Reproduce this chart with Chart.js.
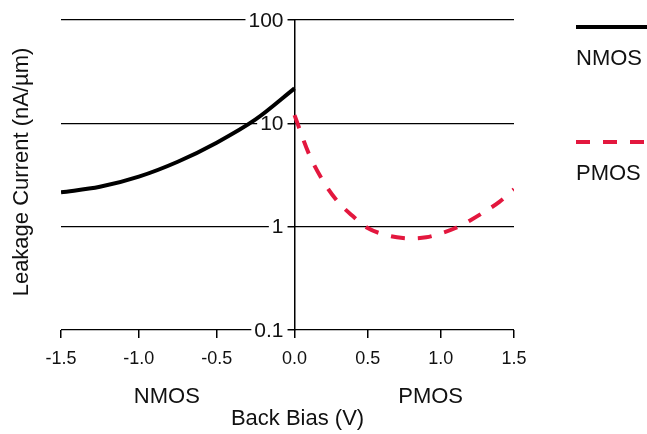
<!DOCTYPE html>
<html>
<head>
<meta charset="utf-8">
<script src="https://cdn.jsdelivr.net/npm/chart.js@4.4.1/dist/chart.umd.min.js"></script>
<style>
  html, body { margin: 0; padding: 0; background: #fff; }
  #wrap { width: 647px; height: 434px; }
</style>
</head>
<body>
<div id="wrap"><canvas id="leakChart"></canvas></div>
<script>
// values
const biasNmos = [-1.5, -1.25, -1.0, -0.75, -0.5, -0.25, 0];
const leakNmos = [2.15, 2.43, 3.05, 4.25, 6.5, 10.9, 21.8];
const biasPmos = [0, 0.1, 0.2, 0.3, 0.4, 0.5, 0.6, 0.7, 0.8, 0.9, 1.0, 1.1, 1.2, 1.3, 1.4, 1.5];
const leakPmos = [12.0, 5.0, 2.7, 1.72, 1.26, 0.97, 0.85, 0.79, 0.77, 0.79, 0.86, 0.97, 1.15, 1.4, 1.74, 2.3];
const seriesNames = ['NMOS', 'PMOS'];
const seriesColors = ['#000000', '#e3173e'];
const xTicks = [-1.5, -1.0, -0.5, 0, 0.5, 1.0, 1.5];
const yTicks = [0.1, 1, 10, 100];
const sideLabels = ['NMOS', 'PMOS'];
const sideLabelAt = [-0.82, 0.93];
const xTitle = 'Back Bias (V)';
const yTitle = 'Leakage Current (nA/µm)';

const FONT = '"Liberation Sans", Arial, Helvetica, sans-serif';
const SPLIT = 0.5155; // the zero sits a bit right of centre in the original

// linear scale where the negative and positive halves get different widths
class SplitLinearScale extends Chart.LinearScale {
  getPixelForValue(value) {
    if (value === null || value === undefined || isNaN(value)) return NaN;
    const mid = this.left + this.width * SPLIT;
    if (value <= 0) return mid - (value / this.min) * (mid - this.left);
    return mid + (value / this.max) * (this.right - mid);
  }
}
SplitLinearScale.id = 'splitLinear';
SplitLinearScale.defaults = Chart.LinearScale.defaults;
Chart.register(SplitLinearScale);

// y tick labels sit just left of the axis at x = 0 and cut the grid lines
const yLabels = {
  id: 'yLabels',
  beforeDatasetsDraw(chart) {
    const { ctx, scales: { x, y } } = chart;
    const ax = x.getPixelForValue(0);
    ctx.save();
    ctx.font = '21px ' + FONT;
    ctx.textAlign = 'right';
    ctx.textBaseline = 'middle';
    y.ticks.forEach(t => {
      const py = y.getPixelForValue(t.value);
      const txt = String(t.value);
      const w = ctx.measureText(txt).width;
      const right = ax - 11;
      ctx.fillStyle = '#fff';
      ctx.fillRect(right - w - 3, py - 3, w + 7, 6);
      ctx.fillStyle = '#111';
      ctx.fillText(txt, right, py + 1);
    });
    ctx.restore();
  }
};

const extraText = {
  id: 'extraText',
  afterDraw(chart) {
    const { ctx, chartArea, scales: { x } } = chart;
    ctx.save();
    ctx.fillStyle = '#111';
    ctx.font = '22px ' + FONT;
    ctx.textBaseline = 'alphabetic';
    ctx.textAlign = 'center';
    sideLabels.forEach((t, i) => {
      ctx.fillText(t, x.getPixelForValue(sideLabelAt[i]), chartArea.bottom + 73);
    });
    ctx.fillText(xTitle, x.getPixelForValue(0) + 3, chartArea.bottom + 95);

    // legend: line sample with the name underneath
    const lx = chartArea.right + 62;
    chart.data.datasets.forEach((ds, i) => {
      const ly = 27 + i * 115;
      ctx.save();
      ctx.strokeStyle = ds.borderColor;
      ctx.lineWidth = 4;
      ctx.setLineDash(ds.borderDash || []);
      ctx.beginPath();
      ctx.moveTo(lx, ly);
      ctx.lineTo(lx + 72, ly);
      ctx.stroke();
      ctx.restore();
      ctx.textAlign = 'left';
      ctx.fillText(ds.label, lx, ly + 38);
    });

    ctx.textAlign = 'center';
    ctx.translate(28, (chartArea.top + chartArea.bottom) / 2 - 3);
    ctx.rotate(-Math.PI / 2);
    ctx.fillText(yTitle, 0, 0);
    ctx.restore();
  }
};

new Chart(document.getElementById('leakChart'), {
  type: 'line',
  data: {
    datasets: [{
      label: seriesNames[0],
      data: biasNmos.map((b, i) => ({ x: b, y: leakNmos[i] })),
      borderColor: seriesColors[0],
      borderWidth: 4,
      pointRadius: 0,
      cubicInterpolationMode: 'monotone',
      fill: false
    }, {
      label: seriesNames[1],
      data: biasPmos.map((b, i) => ({ x: b, y: leakPmos[i] })),
      borderColor: seriesColors[1],
      borderWidth: 4,
      borderDash: [14, 13],
      pointRadius: 0,
      cubicInterpolationMode: 'monotone',
      fill: false
    }]
  },
  options: {
    responsive: true,
    maintainAspectRatio: false,
    animation: false,
    events: [],
    layout: { padding: { top: 20, left: 61, right: 133, bottom: 0 } },
    plugins: { legend: { display: false }, tooltip: { enabled: false } },
    scales: {
      x: {
        type: 'splitLinear',
        min: -1.5,
        max: 1.5,
        afterBuildTicks: s => { s.ticks = xTicks.map(v => ({ value: v })); },
        afterFit: s => { s.height = 104; },
        grid: { drawOnChartArea: false, color: '#000', lineWidth: 1.5, tickLength: 8 },
        border: { display: false },
        ticks: {
          color: '#111',
          font: { family: FONT, size: 18 },
          padding: 10,
          maxRotation: 0,
          callback: v => v.toFixed(1)
        }
      },
      y: {
        type: 'logarithmic',
        min: 0.1,
        max: 100,
        position: { x: 0 },
        afterBuildTicks: s => { s.ticks = yTicks.map(v => ({ value: v })); },
        grid: { color: '#000', lineWidth: 1.3, tickLength: 8 },
        border: { color: '#000', width: 1.5 },
        ticks: { display: false }
      }
    }
  },
  plugins: [yLabels, extraText]
});
</script>
</body>
</html>
